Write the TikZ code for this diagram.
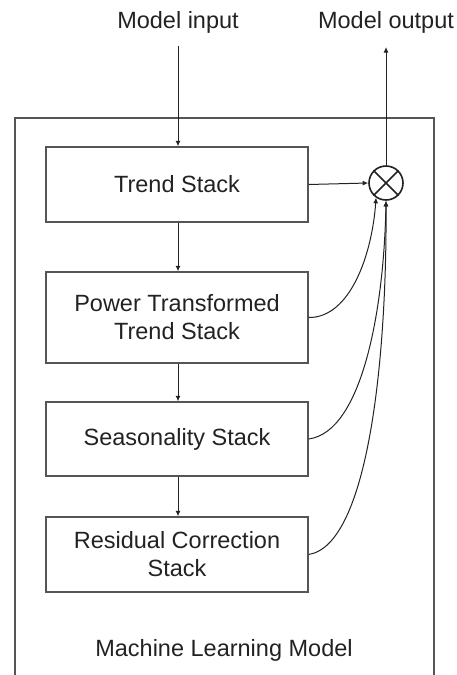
\documentclass[tikz,border=0pt]{standalone}
\usepackage{fontspec}
\setmainfont{Liberation Sans}
\usetikzlibrary{arrows.meta}
\definecolor{edge}{HTML}{555555}
\definecolor{ink}{HTML}{222222}
\begin{document}
\begin{tikzpicture}[x=1pt,y=-1pt,
  every node/.style={font=\fontsize{23.5}{28}\selectfont, text=ink},
  stackbox/.style={draw=edge, line width=1.3pt, minimum width=262pt, inner sep=0pt, align=center},
  flow/.style={draw=ink, line width=1pt, -{Latex[length=5.5pt,width=5pt]}},
  label/.style={inner sep=0pt}]
  \useasboundingbox (0,0) rectangle (457,675);
  \clip (0,0) rectangle (457,675);

  % enclosing model frame (runs off the bottom edge)
  \draw[edge, line width=1.3pt] (15,118) rectangle (434,700);

  % titles
  \node[label] (in)  at (178,22) {Model input};
  \node[label] (out) at (386,22) {Model output};
  \node[label] (ml)  at (224,650) {Machine Learning Model};
  \coordinate (inend) at (178,46);
  \coordinate (outend) at (386,47);

  % stacks
  \node[stackbox, minimum height=75pt] (trend) at (177,184.5) {Trend Stack};
  \node[stackbox, minimum height=91pt] (power) at (177,317.5) {Power Transformed\\Trend Stack};
  \node[stackbox, minimum height=74pt] (season) at (177,439) {Seasonality Stack};
  \node[stackbox, minimum height=75pt] (resid) at (177,554.5) {Residual Correction\\Stack};

  % combining operator
  \node[draw=ink, line width=1.6pt, circle, minimum size=34pt, inner sep=0pt] (mul) at (386,183) {};
  \draw[ink, line width=1.6pt] (mul.north west) -- (mul.south east)
                               (mul.north east) -- (mul.south west);

  % main chain
  \draw[flow] (inend) -- (trend.north -| inend);
  \draw[flow] (trend.south -| inend) -- (power.north -| inend);
  \draw[flow] (power.south -| inend) -- (season.north -| inend);
  \draw[flow] (season.south -| inend) -- (resid.north -| inend);

  % stack outputs into the operator
  \draw[flow] (trend.east) -- (mul.west);
  \draw[flow] (power.east) .. controls (350,318) and (372,255) .. (mul.-124);
  \draw[flow] (season.east) .. controls (362,432) and (384,310) .. (mul.-90);
  \draw[flow] (resid.east) .. controls (368,545) and (387,360) .. (mul.-90);

  % model output
  \draw[flow] (mul.north) -- (outend);
\end{tikzpicture}
\end{document}
